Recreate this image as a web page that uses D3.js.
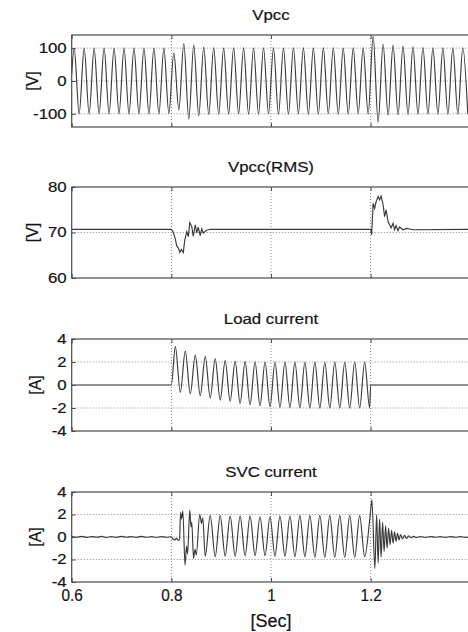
<!DOCTYPE html>
<html>
<head>
<meta charset="utf-8">
<script src="https://cdn.jsdelivr.net/npm/d3@7"></script>
<style>
body { margin: 0; background: #fff; }
svg { display: block; font-family: Arial, "Liberation Sans", sans-serif; }
svg text { stroke: #222; stroke-width: 0.2px; }
</style>
</head>
<body>
<div id="graph"></div>
<script>
// time axis
var timeDomain = [0.6, 1.4];
var timeTicks = [0.6, 0.8, 1, 1.2];
var halfPeriod = 0.01;   // 50 Hz -> one extremum every 10 ms

// Vpcc: peaks / troughs, first peak at 0.605 s
var vpccStart = [[0.6, 20]];
var vpccT0 = 0.605;
var vpccPeaks = [
  100, -100, 100, -100, 100, -100, 100, -100, 100, -100,
  100, -100, 100, -100, 100, -100, 100, -100, 100, -99,
  86, -88, 114, -116, 109, -106, 103, -102,
  101, -101, 100, -101, 101, -100, 101, -101, 100, -101,
  101, -100, 101, -101, 100, -101, 101, -100, 101, -101,
  100, -101, 101, -100, 101, -101, 100, -101, 101, -100, 101,
  -101, 136, -125, 112, -104, 109, -103, 106, -102, 104, -101,
  102, -101, 101, -101, 101, -101, 101, -101, 101, -101
];

// Vpcc(RMS)
var rmsPoints = [
  [0.6, 70.7], [0.8, 70.7], [0.803, 70.2], [0.807, 69.0], [0.811, 67.0],
  [0.814, 66.6], [0.817, 65.6], [0.820, 66.3], [0.824, 65.6], [0.827, 68.4],
  [0.831, 70.2], [0.834, 69.1], [0.837, 72.2], [0.841, 71.3], [0.844, 69.2],
  [0.848, 71.7], [0.851, 69.9], [0.854, 71.2], [0.858, 69.3], [0.861, 70.8],
  [0.864, 69.9], [0.871, 70.5], [0.878, 70.7], [1.2, 70.7], [1.202, 69.5],
  [1.205, 76.4], [1.208, 75.3], [1.211, 76.8], [1.215, 77.9], [1.218, 77.2],
  [1.221, 78.0], [1.225, 76.1], [1.228, 73.5], [1.231, 75.0], [1.235, 72.4],
  [1.238, 71.7], [1.241, 71.0], [1.245, 72.0], [1.248, 70.6], [1.251, 71.5],
  [1.255, 70.4], [1.258, 71.2], [1.265, 70.6], [1.272, 70.9], [1.285, 70.6],
  [1.4, 70.7]
];

// Load current
var loadBefore = [[0.6, 0], [0.8, 0]];
var loadT0 = 0.808;
var loadPeaks = [
  3.34, -0.64, 2.94, -0.78, 2.6, -0.93, 2.47, -1.13, 2.27, -1.31,
  2.12, -1.42, 2.06, -1.6, 2.03, -1.72, 2.0, -1.8, 2.0, -1.89,
  1.98, -1.95, 2.0, -1.97, 2.0, -1.98, 1.98, -2.0, 2.0, -2.0,
  1.98, -2.0, 2.0, -2.0, 1.98, -2.0, 2.0, -2.0, 1.98, -1.98
];
var loadAfter = [[1.2, 0], [1.4, 0]];

// SVC current
var svcPreT0 = 0.6;
var svcPre = [
  0.03, -0.02, 0.05, -0.03, 0.04, -0.02, 0.05, -0.04, 0.03, -0.03,
  0.05, -0.02, 0.04, -0.03, 0.05, -0.02, 0.03, -0.04, 0.04, -0.02
];
var svcOnset = [
  [0.8, 0.02], [0.803, -0.18], [0.807, -0.25], [0.81, -0.12], [0.814, -0.3],
  [0.8165, -0.22], [0.8185, 2.2], [0.8205, 1.6], [0.823, 2.3], [0.8275, -2.5],
  [0.8305, -0.8], [0.8325, -1.5], [0.837, 2.4], [0.8395, 0.9], [0.841, 1.3],
  [0.8445, -1.9], [0.8475, -1.1], [0.85, -1.6], [0.857, 2.0], [0.8605, 1.2],
  [0.863, 1.7], [0.868, -1.7]
];
var svcT0 = 0.878;
var svcPeaks = [
  1.9, -1.75, 1.9, -1.7, 1.85, -1.7, 1.85, -1.65, 1.85, -1.65,
  1.8, -1.65, 1.8, -1.7, 1.85, -1.7, 1.85, -1.75, 1.9, -1.75,
  1.9, -1.8, 1.9, -1.8, 1.9, -1.8, 1.9, -1.8, 1.9, -1.8, 1.9, -1.75
];
var svcTransient = [
  [1.199, 1.9], [1.2025, 3.3], [1.2085, -2.8], [1.212, 2.0], [1.215, -2.3],
  [1.218, 1.6], [1.221, -1.8], [1.224, 1.3], [1.227, -1.3], [1.230, 1.0],
  [1.233, -1.0], [1.236, 0.8], [1.239, -0.7], [1.242, 0.6], [1.245, -0.55],
  [1.248, 0.45], [1.251, -0.38], [1.254, 0.32], [1.257, -0.26], [1.26, 0.22],
  [1.264, -0.17], [1.268, 0.14], [1.272, -0.12], [1.276, 0.1], [1.281, -0.07],
  [1.286, 0.06], [1.292, -0.04]
];
var svcPostT0 = 1.3;
var svcPost = [0.03, -0.03, 0.04, -0.02, 0.03, -0.03, 0.04, -0.02, 0.03, -0.03, 0.03];

function extrema(t0, step, values) {
  return values.map(function(v, i) { return [t0 + i * step, v]; });
}

var panels = [
  { title: 'Vpcc', label: '[V]', domain: [-140, 140], ticks: [-100, 0, 100],
    top: 35, bottom: 127, labelX: 38, curve: d3.curveMonotoneX,
    points: vpccStart.concat(extrema(vpccT0, halfPeriod, vpccPeaks)) },
  { title: 'Vpcc(RMS)', label: '[V]', domain: [60, 80], ticks: [60, 70, 80],
    top: 187, bottom: 278, labelX: 38, curve: d3.curveLinear,
    points: rmsPoints },
  { title: 'Load current', label: '[A]', domain: [-4, 4], ticks: [-4, -2, 0, 2, 4],
    top: 339, bottom: 431, labelX: 41, curve: d3.curveMonotoneX,
    points: loadBefore.concat(extrema(loadT0, halfPeriod, loadPeaks), loadAfter) },
  { title: 'SVC current', label: '[A]', domain: [-4, 4], ticks: [-4, -2, 0, 2, 4],
    top: 492, bottom: 582, labelX: 41, curve: d3.curveMonotoneX,
    points: extrema(svcPreT0, halfPeriod, svcPre).concat(svcOnset,
      extrema(svcT0, halfPeriod, svcPeaks), svcTransient,
      extrema(svcPostT0, halfPeriod, svcPost)) }
];

var width = 468, height = 632;
var left = 71.7, right = 470.3;

var svg = d3.select('#graph').append('svg')
    .attr('width', width)
    .attr('height', height);

svg.append('rect').attr('width', width).attr('height', height).attr('fill', '#fff');

var x = d3.scaleLinear().domain(timeDomain).range([left, right]);

function stretch(sel, k) {
  sel.each(function() {
    var w = this.getComputedTextLength();
    d3.select(this).attr('textLength', w * k).attr('lengthAdjust', 'spacingAndGlyphs');
  });
}

panels.forEach(function(p, i) {
  var y = d3.scaleLinear().domain(p.domain).range([p.bottom, p.top]);
  var g = svg.append('g');

  g.append('clipPath').attr('id', 'clip' + i)
    .append('rect')
    .attr('x', left).attr('y', p.top - 1)
    .attr('width', right - left).attr('height', p.bottom - p.top + 2);

  // grid
  g.selectAll('.hgrid')
    .data(p.ticks.filter(function(d) { return d > p.domain[0] && d < p.domain[1]; }))
    .enter().append('line')
    .attr('x1', left).attr('x2', right)
    .attr('y1', function(d) { return y(d); }).attr('y2', function(d) { return y(d); })
    .attr('stroke', '#888').attr('stroke-dasharray', '1,2');
  g.selectAll('.vgrid')
    .data(timeTicks.slice(1))
    .enter().append('line')
    .attr('x1', function(d) { return x(d); }).attr('x2', function(d) { return x(d); })
    .attr('y1', p.top).attr('y2', p.bottom)
    .attr('stroke', '#888').attr('stroke-dasharray', '1,2');

  // trace
  var line = d3.line()
    .x(function(d) { return x(d[0]); })
    .y(function(d) { return y(d[1]); })
    .curve(p.curve);
  g.append('path')
    .datum(p.points)
    .attr('clip-path', 'url(#clip' + i + ')')
    .attr('fill', 'none')
    .attr('stroke', '#3a3a3a')
    .attr('stroke-width', 1.15)
    .attr('d', line);

  // box
  g.append('rect')
    .attr('x', left).attr('y', p.top)
    .attr('width', right - left).attr('height', p.bottom - p.top)
    .attr('fill', 'none').attr('stroke', '#4a4a4a').attr('stroke-width', 1.2);

  // y axis
  var yAxis = d3.axisLeft(y)
    .tickValues(p.ticks)
    .tickSizeInner(-4).tickSizeOuter(0).tickPadding(5)
    .tickFormat(function(d) { return String(d); });
  var ya = g.append('g').attr('transform', 'translate(' + left + ',0)').call(yAxis);
  ya.select('.domain').remove();
  ya.selectAll('line').attr('stroke', '#4a4a4a');
  ya.selectAll('text').attr('font-size', 14).attr('fill', '#111')
    .attr('font-family', 'Arial, "Liberation Sans", sans-serif');
  stretch(ya.selectAll('text'), 1.2);

  // x ticks on bottom and top
  var xb = g.append('g').attr('transform', 'translate(0,' + p.bottom + ')')
    .call(d3.axisBottom(x).tickValues(timeTicks)
      .tickSizeInner(-4).tickSizeOuter(0).tickPadding(7)
      .tickFormat(function(d) { return String(d); }));
  xb.select('.domain').remove();
  xb.selectAll('line').attr('stroke', '#4a4a4a');
  if (i === panels.length - 1) {
    xb.selectAll('text').attr('font-size', 17).attr('fill', '#111')
      .attr('font-family', 'Arial, "Liberation Sans", sans-serif');
    stretch(xb.selectAll('text'), 0.9);
  } else {
    xb.selectAll('text').remove();
  }
  var xt = g.append('g').attr('transform', 'translate(0,' + p.top + ')')
    .call(d3.axisTop(x).tickValues(timeTicks).tickSizeInner(-4).tickSizeOuter(0).tickFormat(''));
  xt.select('.domain').remove();
  xt.selectAll('line').attr('stroke', '#4a4a4a');

  // title
  var title = g.append('text')
    .attr('x', (left + right) / 2).attr('y', p.top - 15)
    .attr('text-anchor', 'middle')
    .attr('font-size', 14).attr('fill', '#111')
    .text(p.title);
  stretch(title, 1.2);

  // y label
  g.append('text')
    .attr('transform', 'translate(' + p.labelX + ',' + (p.top + p.bottom) / 2 + ') rotate(-90)')
    .attr('text-anchor', 'middle')
    .attr('font-size', 16).attr('fill', '#111')
    .text(p.label);
});

svg.append('text')
  .attr('x', x(1)).attr('y', 627)
  .attr('text-anchor', 'middle')
  .attr('font-size', 18).attr('fill', '#111')
  .text('[Sec]');
</script>
</body>
</html>
